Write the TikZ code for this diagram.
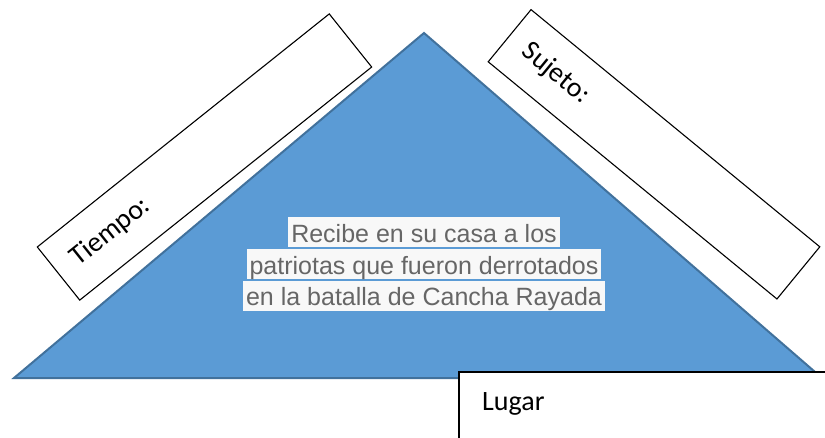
\documentclass[tikz,border=0pt]{standalone}
\usepackage{fontspec}
\setmainfont{Liberation Sans}
\newfontfamily\calibri{Carlito}
\definecolor{triblue}{HTML}{5B9BD5}
\definecolor{triborder}{HTML}{41719C}
\definecolor{hlgray}{HTML}{F8F8F8}
\definecolor{txtgray}{HTML}{666666}
\begin{document}
\begin{tikzpicture}[x=1pt,y=-1pt,
  tri/.style={fill=triblue, draw=triborder, line width=2pt, line join=miter},
  labelbox/.style={draw=black, fill=white, line width=1.1pt,
    minimum height=68pt, inner xsep=20pt, inner ysep=0pt,
    align=left, font=\calibri\fontsize{28}{33}\selectfont},
  hl/.style={fill=hlgray, text=txtgray, font=\fontsize{25}{30}\selectfont,
    inner xsep=3pt, inner ysep=0pt, text height=25pt, text depth=5pt},
  boxline/.style={draw=black, fill=white, line width=1.1pt}]
\useasboundingbox (0,0) rectangle (825,437);
% triangle
\coordinate (apex) at (424,33);
\coordinate (bl) at (14,378);
\coordinate (br) at (822,378);
\draw[tri] (apex) -- (br) -- (bl) -- cycle;
% rotated label boxes
\node[labelbox, rotate=38.6, minimum width=373.6pt, text width=333.6pt] (tiempo) at (204.5,157) {Tiempo:};
\node[labelbox, rotate=-39.4, minimum width=373.7pt, minimum height=67.5pt, text width=333.7pt] (sujeto) at (654,154.3) {Sujeto:};
% centre text
\node[hl] (l1) at (424,232) {Recibe en su casa a los};
\node[hl] (l2) at (424,264) {patriotas que fueron derrotados};
\node[hl] (l3) at (424,295.5) {en la batalla de Cancha Rayada};
% Lugar box
\coordinate (lugarnw) at (459,372);
\coordinate (lugarse) at (832,442);
\draw[boxline] (lugarnw) rectangle (lugarse);
\node[anchor=base west, inner sep=0pt, font=\calibri\fontsize{28}{33}\selectfont] (lugar) at (482,410) {Lugar};
\end{tikzpicture}
\end{document}
